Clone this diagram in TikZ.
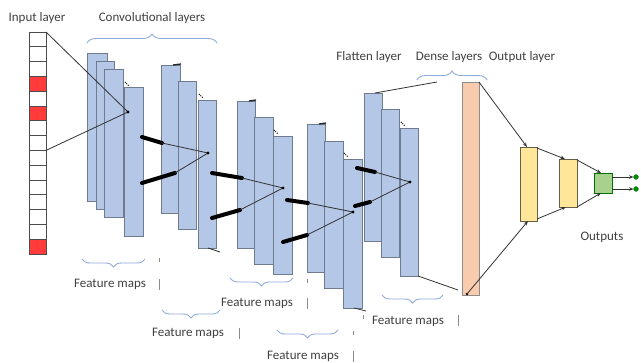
\documentclass[tikz,border=0pt]{standalone}
\usepackage{fontspec}
\setmainfont{Carlito}
\usetikzlibrary{decorations.pathreplacing,arrows.meta}
\definecolor{fmblue}{HTML}{B4C7E7}
\definecolor{fmedge}{HTML}{6F7C8F}
\definecolor{cellred}{HTML}{FF3B3B}
\definecolor{densec}{HTML}{F8CBAD}
\definecolor{yel}{HTML}{FFE699}
\definecolor{grn}{HTML}{A9D18E}
\definecolor{bracec}{HTML}{8FAADC}
\definecolor{txt}{HTML}{404040}
\newcommand\rsbox[6]{%
  \pgfmathsetmacro\rsW{#5-#3}\pgfmathsetmacro\rsH{#6-#4}%
  \node[#1, minimum width=\rsW pt, minimum height=\rsH pt] (#2) at ({(#3+#5)/2},{(#4+#6)/2}) {};}
\tikzset{
  base/.style={inner sep=0pt, outer sep=0pt, line width=0.7pt},
  fm/.style={base, draw=fmedge, fill=fmblue},
  cell/.style={base, draw=black!70, fill=white},
  redcell/.style={base, draw=black!70, fill=cellred},
  dense/.style={base, draw=black!45, fill=densec},
  yelbox/.style={base, draw=black!70!yellow, fill=yel},
  grnbox/.style={base, draw=black!55!green, fill=grn},
  conn/.style={draw=black!80, line width=0.8pt},
  thickseg/.style={draw=black, line width=4pt, line cap=round},
  arr/.style={conn, -{Stealth[length=4.5pt,width=3.5pt]}},
  lbl/.style={text=txt, font=\fontsize{13}{15}\selectfont, inner sep=0pt},
  brc/.style={draw=bracec, line width=0.9pt, decorate, decoration={brace, amplitude=9pt}},
  brcd/.style={draw=bracec, line width=0.9pt, decorate, decoration={brace, mirror, amplitude=8pt}},
  barmark/.style={draw=black!45, line width=0.7pt},
  dotmark/.style={draw=black, line width=1pt, dash pattern=on 1pt off 1pt},
  tick/.style={draw=black!85, line width=1.3pt},
  dotc/.style={fill=black},
}
\begin{document}
\begin{tikzpicture}[x=1pt, y=-1pt]
\useasboundingbox (0,0) rectangle (641,363);
% input column
\foreach \i in {0,...,14}{
  \pgfmathsetmacro\ya{32+\i*14.8}\pgfmathsetmacro\yb{32+(\i+1)*14.8}
  \ifnum\i=3 \def\st{redcell}\else\ifnum\i=5 \def\st{redcell}\else\ifnum\i=14 \def\st{redcell}\else\def\st{cell}\fi\fi\fi
  \rsbox{\st}{in\i}{29}{\ya}{46}{\yb}
}
% group 1
\rsbox{fm}{g1a}{87}{53}{107}{201}
\rsbox{fm}{g1b}{96}{61}{114}{209}
\rsbox{fm}{g1c}{104}{69}{123}{217}
\rsbox{fm}{g1d}{124}{87}{143}{236}
% group 2
\rsbox{fm}{g2a}{161}{65}{180}{213}
\rsbox{fm}{g2b}{178}{81}{196}{229}
\rsbox{fm}{g2c}{198}{100}{216}{248}
% group 3
\rsbox{fm}{g3a}{237}{101}{255}{248}
\rsbox{fm}{g3b}{254}{117}{273}{264}
\rsbox{fm}{g3c}{273}{136}{292}{274}
% group 4
\rsbox{fm}{g4a}{307}{124}{325}{272}
\rsbox{fm}{g4b}{324}{141}{343}{288}
\rsbox{fm}{g4c}{343}{159}{362}{308}
% group 5
\rsbox{fm}{g5a}{364}{93}{382}{241}
\rsbox{fm}{g5b}{381}{109}{399}{257}
\rsbox{fm}{g5c}{400}{128}{418}{276}
% dense / output
\rsbox{dense}{dn}{462}{82}{479}{295}
\rsbox{yelbox}{y1}{520}{147}{537}{221}
\rsbox{yelbox}{y2}{559}{159}{577}{207}
\rsbox{grnbox}{gr}{594}{173}{612}{193}

% small marks
\draw[dotmark] (125,82) -- (129,86);
\draw[dotmark] (199,94) -- (203,98);
\draw[dotmark] (274,130) -- (278,134);
\draw[dotmark] (344,153) -- (348,157);
\draw[dotmark] (401,122) -- (405,126);
\draw[tick] (173,65) -- (181,64);
\draw[tick] (249,101) -- (256,100);
\draw[tick] (319,124) -- (326,123);
\draw[conn] (208,248) -- (220,252);
\draw[conn] (354,308) -- (366,311);

% dots
\coordinate (d1) at (128,112);
\coordinate (d2) at (208,153);
\coordinate (d3) at (283,188);
\coordinate (d4) at (353,212);
\coordinate (d5) at (410,182);

% input lines
\draw[conn] (in0.north east) -- (d1);
\draw[conn] (in8.north east) -- (d1);

% segments between groups
\coordinate (s1a) at (142,137); \coordinate (s1b) at (162,143);
\coordinate (s1c) at (142,183); \coordinate (s1d) at (175,173);
\coordinate (s2a) at (212,173); \coordinate (s2b) at (242,178);
\coordinate (s2c) at (212,218); \coordinate (s2d) at (240,210);
\coordinate (s3a) at (287,200); \coordinate (s3b) at (308,203);
\coordinate (s3c) at (283,242); \coordinate (s3d) at (307,235);
\coordinate (s4a) at (357,168); \coordinate (s4b) at (375,172);
\coordinate (s4c) at (355,206); \coordinate (s4d) at (370,202);
\foreach \k/\n in {1/2,2/3,3/4,4/5}{
  \draw[thickseg] (s\k a) -- (s\k b);
  \draw[thickseg] (s\k c) -- (s\k d);
  \draw[conn] (s\k b) -- (d\n);
  \draw[conn] (s\k d) -- (d\n);
}
\foreach \k in {1,...,5}{\fill[dotc] (d\k) circle (1.6pt);}

% flatten to dense
\coordinate (f1) at (437,82);
\coordinate (f2) at (458,290);
\draw[conn] (375,93) -- (f1);
\draw[conn] (g5c.south east) -- (f2);
\coordinate (dd) at (467,294);
\fill[dotc] (dd) circle (1.4pt);

% arrows to output
\draw[arr] (dn.north east) -- ([xshift=7pt]y1.north west);
\draw[arr] (dd) -- ([xshift=8pt]y1.south west);
\draw[arr] ([yshift=-1pt]y1.north east) -- ([xshift=6pt]y2.north west);
\draw[arr] ([yshift=2pt]y1.south east) -- ([xshift=7pt]y2.south west);
\draw[arr] ([yshift=-1pt]y2.north east) -- ([xshift=7pt]gr.north west);
\draw[arr] (y2.south east) -- ([xshift=7pt]gr.south west);
\coordinate (o1) at (636,177);
\coordinate (o2) at (636,189);
\draw[arr] (gr.east |- o1) -- ([xshift=-2.5pt]o1);
\draw[arr] (gr.east |- o2) -- ([xshift=-2.5pt]o2);
\fill[draw=black!50!green, fill=green!55!black, line width=0.4pt] (o1) circle (2.4pt);
\fill[draw=black!50!green, fill=green!55!black, line width=0.4pt] (o2) circle (2.4pt);

% top labels
\node[lbl] (tin) at (37,18) {Input layer};
\node[lbl] (tconv) at (152,18) {Convolutional layers};
\draw[brc] (87,43) -- (217,43);
\node[lbl] (tflat) at (369,57) {Flatten layer};
\node[lbl] (tdense) at (449,57) {Dense layers};
\node[lbl] (tout) at (522,57) {Output layer};
\draw[brc] (417,80) -- (487,80);
\node[lbl] (touts) at (602,237) {Outputs};

% feature maps
\draw[brcd] (82,259) -- (145,259);
\node[lbl] (fm1) at (110,284) {Feature maps};
\draw[barmark] (159,279) -- (159,290);
\draw[barmark] (159,258) -- (159,262);
\draw[brcd] (162,310) -- (220,310);
\node[lbl] (fm2) at (188,333) {Feature maps};
\draw[barmark] (239,328) -- (239,339);
\draw[brcd] (230,278) -- (293,278);
\node[lbl] (fm3) at (257,303) {Feature maps};
\draw[barmark] (307,298) -- (307,309);
\draw[barmark] (307,279) -- (307,283);
\draw[brcd] (277,330) -- (338,330);
\node[lbl] (fm4) at (303,356) {Feature maps};
\draw[barmark] (353,351) -- (353,362);
\draw[barmark] (353,331) -- (353,335);
\draw[brcd] (382,295) -- (443,295);
\node[lbl] (fm5) at (408,321) {Feature maps};
\draw[barmark] (458,315) -- (458,326);
\draw[barmark] (363,315) -- (363,319);
\end{tikzpicture}
\end{document}
